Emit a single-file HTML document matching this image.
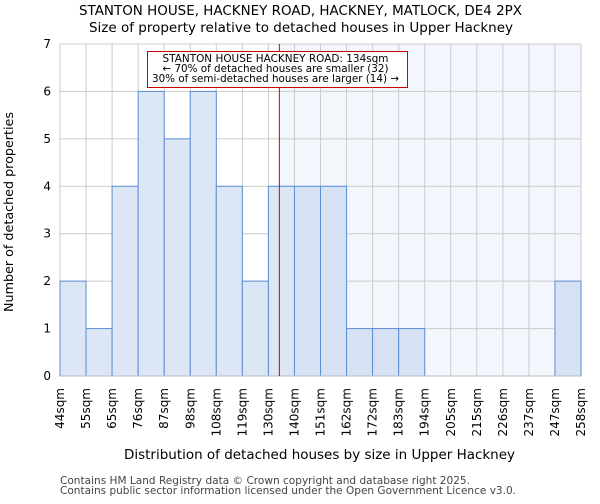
<!DOCTYPE html>
<html><head><meta charset="utf-8"><style>
body{margin:0;background:#fff;font-family:"DejaVu Sans","Liberation Sans",sans-serif}
</style></head><body>
<svg width="600" height="500" xmlns="http://www.w3.org/2000/svg" font-family="DejaVu Sans, Liberation Sans, sans-serif">
<text x="79" y="15" font-size="13" textLength="443" lengthAdjust="spacingAndGlyphs">STANTON HOUSE, HACKNEY ROAD, HACKNEY, MATLOCK, DE4 2PX</text>
<text x="89" y="32" font-size="13" textLength="424" lengthAdjust="spacingAndGlyphs">Size of property relative to detached houses in Upper Hackney</text>
<g id="plot"></g>
<text x="124" y="459" font-size="13" textLength="391" lengthAdjust="spacingAndGlyphs">Distribution of detached houses by size in Upper Hackney</text>
<text transform="translate(13,312) rotate(-90)" font-size="12.5" textLength="200" lengthAdjust="spacingAndGlyphs">Number of detached properties</text>
<text x="60" y="484" font-size="10.5" fill="#444" textLength="410" lengthAdjust="spacingAndGlyphs">Contains HM Land Registry data © Crown copyright and database right 2025.</text>
<text x="60" y="494" font-size="10.5" fill="#444" textLength="456" lengthAdjust="spacingAndGlyphs">Contains public sector information licensed under the Open Government Licence v3.0.</text>
</svg>
<script>
const categories=["44sqm","55sqm","65sqm","76sqm","87sqm","98sqm","108sqm","119sqm","130sqm","140sqm","151sqm","162sqm","172sqm","183sqm","194sqm","205sqm","215sqm","226sqm","237sqm","247sqm","258sqm"];
const counts=[2,1,4,6,5,6,4,2,4,4,4,1,1,1,0,0,0,0,0,2];
const yTicks=[0,1,2,3,4,5,6,7];
const markerBinPos=8.42;
const NS="http://www.w3.org/2000/svg";
const L=60,R=581,T=44,B=376,yMax=7;
const bw=(R-L)/counts.length;
const x=i=>L+i*bw;
const y=v=>B-(B-T)*v/yMax;
const g=document.getElementById('plot');
function mk(t,a){const e=document.createElementNS(NS,t);for(const k in a)e.setAttribute(k,a[k]);g.appendChild(e);return e;}
const mx=x(markerBinPos);
let e=mk('rect',{x:mx,y:T,width:R-mx,height:B-T,fill:'#f3f6fd'});


yTicks.forEach(t=>{
 let l=mk('line',{x1:L,x2:R,y1:y(t),y2:y(t),stroke:'#cccccc'});
 
 
 let tx=mk('text',{x:L-9,y:y(t)+4,'text-anchor':'end','font-size':12});
 tx.textContent=t;
 
 
});
categories.forEach((c,i)=>{
 let l=mk('line',{x1:x(i),x2:x(i),y1:T,y2:B,stroke:'#cccccc'});
 
 
 let tx=mk('text',{transform:`translate(${x(i)+4},388) rotate(-90)`,'text-anchor':'end','font-size':12});
 tx.textContent=c;
 
 
});
counts.forEach((v,i)=>{
 if(v<=0)return;
 const right=x(i)>=mx-1;
 let r=mk('rect',{x:x(i),y:y(v),width:bw,height:y(0)-y(v),fill:right?'#d6e2f3':'#dce6f5',stroke:'#5b8fd4','stroke-width':1});
 
 
});
let ax=mk('line',{x1:L,x2:R,y1:B,y2:B,stroke:'#bbbbbb'});


let ml=mk('line',{x1:mx,x2:mx,y1:T,y2:B,stroke:'#cc0000','stroke-width':1});


let box=mk('rect',{x:147.5,y:51.5,width:260,height:36,fill:'#fff',stroke:'#cc0000','stroke-width':1});


[["STANTON HOUSE HACKNEY ROAD: 134sqm",226],["← 70% of detached houses are smaller (32)",226],["30% of semi-detached houses are larger (14) →",247]].forEach((s,k)=>{
 let t=mk('text',{x:275.5-s[1]/2,y:62+k*10,'font-size':10.5,textLength:s[1],lengthAdjust:'spacingAndGlyphs'});
 t.textContent=s[0];
 
 
});
</script>
</body></html>
